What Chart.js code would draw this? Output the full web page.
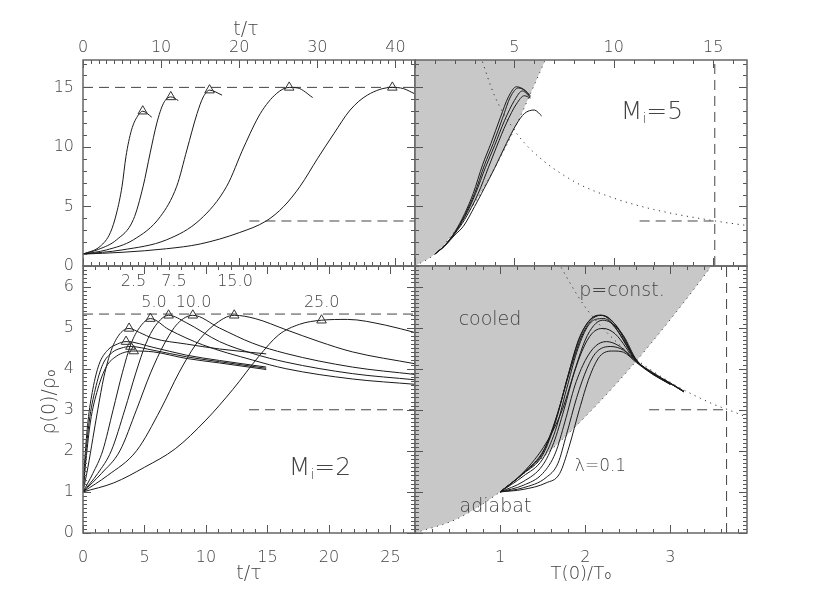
<!DOCTYPE html>
<html>
<head>
<meta charset="utf-8">
<script src="https://cdn.jsdelivr.net/npm/chart.js@4.4.1/dist/chart.umd.min.js"></script>
<style>
html,body{margin:0;padding:0;background:#fff;}
#wrap{position:relative;width:830px;height:593px;}
#wrap canvas{position:absolute;left:0;top:0;}
</style>
</head>
<body>
<div id="wrap">
<canvas id="tl" width="830" height="593"></canvas>
<canvas id="tr" width="830" height="593"></canvas>
<canvas id="bl" width="830" height="593"></canvas>
<canvas id="br" width="830" height="593"></canvas>
</div>
<script>
// ---- data ----
// top left: M_i=5, rho(0)/rho0 against t/tau
const m5Rho1=[[0,1],[2.2,1.65],[3.5,2.8],[4.3,4.45],[5.0,6.7],[5.5,9.2],[6.2,11.4],[7.1,12.7],[7.65,13.0],[8.8,12.5]];
const m5Rho2=[[0,1],[2,1.4],[4.3,2.2],[6.45,3.9],[7.7,6.7],[8.6,9.5],[9.45,12.0],[10.3,13.66],[11.24,14.2],[12.2,13.9]];
const m5Rho3=[[0,1],[3,1.35],[6.45,2.2],[9.9,4.15],[12,6.7],[13.3,9.75],[14.6,12.8],[15.4,14.2],[16.2,14.77],[17.8,14.35]];
const m5Rho4=[[0,1],[5,1.35],[10.7,2.2],[15,3.9],[18.4,6.7],[20.6,10],[22.7,12.8],[24.8,14.5],[26.4,15.0],[27.5,14.95],[29.4,14.15]];
const m5Rho5=[[0,1],[5,1.15],[10.7,1.45],[15,1.85],[20,2.8],[23.5,3.8],[25.7,5.0],[27.8,6.7],[30,9.0],[32.1,11.1],[34.2,13.1],[36.4,14.35],[39.6,15.0],[41,14.9],[42.5,14.45]];
const m5Peaks=[[7.65,13.0],[11.24,14.2],[16.2,14.77],[26.4,15.0],[39.6,15.0]];
const m5DashHigh=[[0,15],[42.5,15]];
const m5DashLow=[[21.3,3.78],[42.5,3.78]];

// top right: M_i=5, rho(0)/rho0 against T(0)/T0
const m5T1=[[1,1],[1.5,1.75],[2.0,2.85],[2.5,4.4],[2.93,6.1],[3.4,8.5],[3.82,10.3],[4.3,12.5],[4.7,14.2],[5.1,15.05],[5.5,14.8],[5.8,14.3]];
const m5T2=[[1,1],[1.5,1.73],[2.0,2.8],[2.5,4.25],[3.0,6.1],[3.5,8.5],[3.94,10.3],[4.4,12.4],[4.8,14.2],[5.2,14.95],[5.55,14.7],[5.8,14.2]];
const m5T3=[[1,1],[1.5,1.72],[2.0,2.75],[2.5,4.1],[3.05,6.1],[3.55,8.3],[4.0,10.1],[4.5,12.2],[5.0,13.9],[5.4,14.7],[5.8,14.15]];
const m5T4=[[1,1],[1.5,1.7],[2.0,2.7],[2.5,3.9],[3.18,6.1],[3.7,8.3],[4.1,10.0],[4.6,12.0],[5.1,13.6],[5.5,14.3],[5.8,14.1]];
const m5T5=[[1,1],[1.5,1.68],[2.0,2.6],[2.43,3.33],[3.0,5.0],[3.35,6.1],[4.0,8.2],[4.6,10.3],[5.1,11.9],[5.5,12.8],[6.0,13.1],[6.37,12.6]];
const m5Adiabat=[[0,0],[1,1],[2,2.9],[3,5.3],[4,8.2],[5,11.5],[6,15.2],[6.6,17.5],[7.5,21]];
const m5Isobar=[[3.3,17.6],[4,14.3],[5,11.4],[6,9.5],[8,7.1],[10,5.7],[12,4.75],[15.1,3.78],[16.7,3.4]];
const m5DashH=[[11.3,3.78],[15.08,3.78]];
const m5DashV=[[15.08,0],[15.08,17.3]];

// bottom left: M_i=2, rho(0)/rho0 against t/tau, one curve per lambda
const m2RhoA=[[0,1],[0.15,1.8],[0.4,2.7],[0.8,3.5],[1.3,4.1],[2.0,4.45],[2.8,4.6],[3.5,4.66],[5.7,4.52],[8.4,4.33],[11.1,4.2],[14.9,4.04]];
const m2RhoB=[[0,1],[0.2,1.8],[0.5,2.7],[1.0,3.5],[1.6,4.1],[2.4,4.4],[3.1,4.5],[3.86,4.54],[5.7,4.45],[8.4,4.29],[11.1,4.17],[14.9,4.01]];
const m2RhoC=[[0,1],[0.25,1.8],[0.6,2.7],[1.2,3.5],[1.9,4.05],[2.7,4.3],[3.4,4.4],[4.13,4.43],[5.7,4.41],[8.4,4.25],[11.1,4.14],[14.9,3.98]];
const m2Rho2p5=[[0,1],[0.4,1.6],[0.8,2.3],[1.2,3.0],[1.7,3.8],[2.3,4.45],[3.0,4.85],[3.75,4.98],[4.6,4.88],[5.7,4.74],[8.4,4.6],[11.1,4.48],[14.9,4.36]];
const m2Rho5=[[0,1],[0.8,1.45],[1.6,2.0],[2.45,3.0],[3.2,3.9],[3.9,4.6],[4.6,5.0],[5.48,5.22],[7.0,4.95],[9.74,4.58],[13.8,4.21],[16.5,4.0],[21.9,3.75],[27,3.62]];
const m2Rho7p5=[[0,1],[1.2,1.45],[2.3,2.0],[3.4,3.0],[4.3,3.9],[5.1,4.6],[5.9,5.05],[6.96,5.3],[8.4,5.12],[11.1,4.66],[13.8,4.37],[16.5,4.16],[21.9,3.88],[27,3.73]];
const m2Rho10=[[0,1],[1.5,1.45],[3.0,2.0],[4.35,3.0],[5.5,3.9],[6.6,4.6],[7.7,5.1],[8.93,5.3],[11.1,4.99],[13.8,4.62],[16.5,4.37],[21.9,4.04],[27,3.86]];
const m2Rho15=[[0,1],[2,1.4],[4.35,2.0],[6.3,3.0],[7.8,3.9],[9.2,4.6],[10.6,5.05],[12.3,5.3],[14,5.22],[16.5,4.95],[19.2,4.66],[21.9,4.41],[27,4.12]];
const m2Rho25=[[0,1],[2.5,1.22],[5,1.6],[7.5,2.05],[10,2.75],[12.2,3.5],[14.3,4.3],[15.9,4.82],[17.6,5.08],[19.4,5.18],[21.5,5.2],[24.6,5.06],[27,4.88]];
const m2Peaks=[[3.75,4.98],[3.5,4.66],[3.86,4.54],[4.13,4.43],[5.48,5.22],[6.96,5.3],[8.93,5.3],[12.3,5.3],[19.4,5.18]];
const m2DashHigh=[[0,5.33],[27,5.33]];
const m2DashLow=[[13.5,3.0],[27,3.0]];
const lambdaLabels=['2.5','5.0','7.5','10.0','15.0','25.0'];

// bottom right: M_i=2, rho(0)/rho0 against T(0)/T0
const m2TA=[[1,1],[1.27,1.16],[1.5,1.45],[1.65,1.95],[1.76,2.7],[1.88,3.6],[2.0,4.2],[2.12,4.55],[2.25,4.66],[2.4,4.55],[2.6,4.18],[2.8,3.87],[3.0,3.62]];
const m2TB=[[1,1],[1.27,1.1],[1.54,1.35],[1.68,1.7],[1.78,2.4],[1.9,3.3],[2.02,4.0],[2.13,4.4],[2.3,4.54],[2.45,4.45],[2.6,4.17],[2.8,3.86],[3.0,3.62]];
const m2TC=[[1,1],[1.27,1.06],[1.54,1.22],[1.7,1.45],[1.81,2.1],[1.93,3.0],[2.05,3.8],[2.17,4.3],[2.33,4.43],[2.45,4.4],[2.6,4.15],[2.8,3.85],[3.0,3.62]];
const m2T2p5=[[1,1],[1.27,1.25],[1.5,1.65],[1.63,2.2],[1.75,3.0],[1.87,3.9],[2.0,4.6],[2.1,4.9],[2.21,4.98],[2.35,4.85],[2.6,4.18],[2.8,3.88],[3.0,3.62]];
const m2T5=[[1,1],[1.27,1.38],[1.5,1.8],[1.65,2.5],[1.78,3.5],[1.9,4.4],[2.02,5.0],[2.12,5.2],[2.22,5.22],[2.35,5.0],[2.6,4.2],[2.8,3.87],[3.0,3.64],[3.16,3.45]];
const m2T7p5=[[1,1],[1.27,1.44],[1.5,1.9],[1.65,2.7],[1.78,3.7],[1.9,4.55],[2.02,5.1],[2.12,5.28],[2.2,5.3],[2.32,5.1],[2.6,4.2],[2.8,3.87],[3.0,3.64],[3.16,3.43]];
const m2T10=[[1,1],[1.27,1.45],[1.5,1.95],[1.66,2.8],[1.8,3.85],[1.92,4.7],[2.04,5.15],[2.15,5.3],[2.24,5.28],[2.36,5.05],[2.6,4.2],[2.8,3.88],[3.0,3.64],[3.16,3.44]];
const m2T15=[[1,1],[1.27,1.46],[1.52,2.05],[1.68,2.95],[1.82,3.95],[1.95,4.75],[2.07,5.18],[2.18,5.3],[2.28,5.22],[2.4,4.95],[2.6,4.21],[2.8,3.88],[3.0,3.64],[3.16,3.44]];
const m2T25=[[1,1],[1.27,1.47],[1.54,2.19],[1.73,3.0],[1.89,4.05],[2.0,4.7],[2.1,5.05],[2.2,5.18],[2.3,5.12],[2.45,4.8],[2.6,4.22],[2.8,3.9],[3.0,3.65],[3.16,3.45]];
const m2Adiabat=[[0,0],[0.5,0.35],[1,1],[1.5,1.84],[2,2.83],[2.5,3.95],[3,5.2],[3.5,6.55],[4,8]];
const m2Isobar=[[1.65,6.7],[2,5.5],[2.5,4.4],[3,3.67],[3.5,3.14],[3.68,3.0],[3.9,2.82]];
const m2DashH=[[2.75,3.0],[3.66,3.0]];
const m2DashV=[[3.66,0],[3.66,6.5]];

// ---- helpers ----
const FONT="'DejaVu Sans', sans-serif";
Chart.defaults.font.family=FONT;
Chart.defaults.font.weight='200';
Chart.defaults.color='#444';

const pts=a=>a.map(([x,y])=>({x,y}));
const curve=a=>({data:pts(a),showLine:true,pointRadius:0,borderColor:'#1a1a1a',borderWidth:1,cubicInterpolationMode:'monotone',fill:false,order:1});
const dashed=a=>({data:pts(a),showLine:true,pointRadius:0,borderColor:'#444',borderWidth:1,borderDash:[10,6],tension:0,fill:false,order:2});
const dotted=a=>({data:pts(a),showLine:true,pointRadius:0,borderColor:'#333',borderWidth:1,borderDash:[1.2,4.5],cubicInterpolationMode:'monotone',fill:false,order:3});
const shaded=a=>({data:pts(a),showLine:true,pointRadius:0,borderColor:'#444',borderWidth:1,borderDash:[1.2,4.5],cubicInterpolationMode:'monotone',fill:'end',backgroundColor:'#c8c8c8',order:10});
const peaks=a=>({data:pts(a),showLine:false,pointStyle:'triangle',pointRadius:5.5,pointBackgroundColor:'rgba(0,0,0,0)',pointBorderColor:'#333',pointBorderWidth:1,order:0});

// axis boxes get a fixed size so the plot areas land where the figure has them
function axis(min,max,step,position,show,hideZero,pad){
  return {type:'linear',min,max,position,display:show,
    grid:{display:false,drawTicks:false},border:{display:false},
    ticks:{stepSize:step,includeBounds:false,autoSkip:false,maxRotation:0,padding:pad,color:'#444',font:{size:16,weight:'200'},
      callback:v=>(hideZero&&v===0)?'':v},
    afterFit:s=>{
      const size=show?(s.isHorizontal()?30:40):0;
      if(s.isHorizontal()) s.height=size; else s.width=size;
    }};
}

// minor/major tick marks on all four sides, plus the frame
const tickSteps={
  tl:{x:[10,1],y:[5,1]},
  tr:{x:[5,1],y:[5,1]},
  bl:{x:[5,1],y:[1,0.1]},
  br:{x:[1,0.2],y:[1,0.1]}
};
const frameTicks={id:'frameTicks',afterDatasetsDraw(chart){
  const {ctx,chartArea:a,scales}=chart, st=tickSteps[chart.canvas.id];
  ctx.save();
  ctx.strokeStyle='#555';ctx.lineWidth=1;
  const run=(scale,major,minor,horiz)=>{
    const n=Math.round((scale.max-scale.min)/minor);
    for(let i=0;i<=n;i++){
      const v=Math.ceil(scale.min/minor-1e-9)*minor+i*minor;
      if(v>scale.max+1e-9) break;
      const isMajor=Math.abs(v/major-Math.round(v/major))<1e-6;
      const len=isMajor?8:4, p=Math.round(scale.getPixelForValue(v))+0.5;
      ctx.beginPath();
      if(horiz){ctx.moveTo(p,a.top);ctx.lineTo(p,a.top+len);ctx.moveTo(p,a.bottom);ctx.lineTo(p,a.bottom-len);}
      else{ctx.moveTo(a.left,p);ctx.lineTo(a.left+len,p);ctx.moveTo(a.right,p);ctx.lineTo(a.right-len,p);}
      ctx.stroke();
    }
  };
  run(scales.x,st.x[0],st.x[1],true);
  run(scales.y,st.y[0],st.y[1],false);
  ctx.strokeStyle='#666';ctx.lineWidth=1.5;
  ctx.strokeRect(a.left,a.top,a.width,a.height);
  ctx.restore();
}};

// free text: titles and labels inside the panels
const notes={
  tl:[{parts:[['t/τ',19]],x:246,y:30}],
  tr:[{parts:[['M',25],['i',14,7],['=5',25]],x:652,y:112}],
  bl:[{parts:[['ρ(0)/ρ₀',19]],x:50,y:402,rot:-Math.PI/2},
      {parts:[['t/τ',19]],x:249,y:574},
      {parts:[['M',25],['i',14,7],['=2',25]],x:320,y:468},
      {parts:[[lambdaLabels[0],16]],x:133.5,y:282},{parts:[[lambdaLabels[2],16]],x:174,y:282},{parts:[[lambdaLabels[4],16]],x:235,y:282},
      {parts:[[lambdaLabels[1],16]],x:154,y:303},{parts:[[lambdaLabels[3],16]],x:193.5,y:303},{parts:[[lambdaLabels[5],16]],x:321.7,y:303}],
  br:[{parts:[['T(0)/T₀',18]],x:581,y:574},
      {parts:[['p=const.',19]],x:622,y:291},
      {parts:[['cooled',19]],x:490,y:320},
      {parts:[['adiabat',19]],x:495.5,y:507},
      {parts:[['λ=0.1',17]],x:600.5,y:467}]
};
const notesPlugin={id:'notes',afterDraw(chart){
  const ctx=chart.ctx;
  (notes[chart.canvas.id]||[]).forEach(n=>{
    ctx.save();
    ctx.fillStyle='#444';ctx.textBaseline='middle';ctx.textAlign='left';
    ctx.translate(n.x,n.y); if(n.rot) ctx.rotate(n.rot);
    let w=0;
    n.parts.forEach(([t,s])=>{ctx.font='200 '+s+'px '+FONT;w+=ctx.measureText(t).width;});
    let x=-w/2;
    n.parts.forEach(([t,s,dy])=>{ctx.font='200 '+s+'px '+FONT;ctx.fillText(t,x,dy||0);x+=ctx.measureText(t).width;});
    ctx.restore();
  });
}};

function panel(id,pad,xs,ys,datasets){
  return new Chart(document.getElementById(id),{
    type:'scatter',
    data:{datasets},
    options:{responsive:false,animation:false,events:[],
      layout:{padding:pad},
      plugins:{legend:{display:false},tooltip:{enabled:false}},
      scales:{x:xs,y:ys}},
    plugins:[frameTicks,notesPlugin]
  });
}

// top left
panel('tl',{left:43,top:30,right:415,bottom:327},
  axis(0,42.5,10,'top',true,false,3),axis(0,17.3,5,'left',true,false,9),
  [peaks(m5Peaks),curve(m5Rho1),curve(m5Rho2),curve(m5Rho3),curve(m5Rho4),curve(m5Rho5),dashed(m5DashHigh),dashed(m5DashLow)]);

// top right
panel('tr',{left:415,top:30,right:83,bottom:327},
  axis(0,16.7,5,'top',true,true,3),axis(0,17.3,5,'left',false,false,9),
  [curve(m5T1),curve(m5T2),curve(m5T3),curve(m5T4),curve(m5T5),dotted(m5Isobar),dashed(m5DashH),dashed(m5DashV),shaded(m5Adiabat)]);

// bottom left
panel('bl',{left:43,top:266,right:415,bottom:30},
  axis(0,27,5,'bottom',true,false,15),axis(0,6.5,1,'left',true,false,9),
  [peaks(m2Peaks),curve(m2RhoA),curve(m2RhoB),curve(m2RhoC),curve(m2Rho2p5),curve(m2Rho5),curve(m2Rho7p5),curve(m2Rho10),curve(m2Rho15),curve(m2Rho25),dashed(m2DashHigh),dashed(m2DashLow)]);

// bottom right
panel('br',{left:415,top:266,right:83,bottom:30},
  axis(0,3.9,1,'bottom',true,true,15),axis(0,6.5,1,'left',false,false,9),
  [curve(m2TA),curve(m2TB),curve(m2TC),curve(m2T2p5),curve(m2T5),curve(m2T7p5),curve(m2T10),curve(m2T15),curve(m2T25),dotted(m2Isobar),dashed(m2DashH),dashed(m2DashV),shaded(m2Adiabat)]);
</script>
</body>
</html>
